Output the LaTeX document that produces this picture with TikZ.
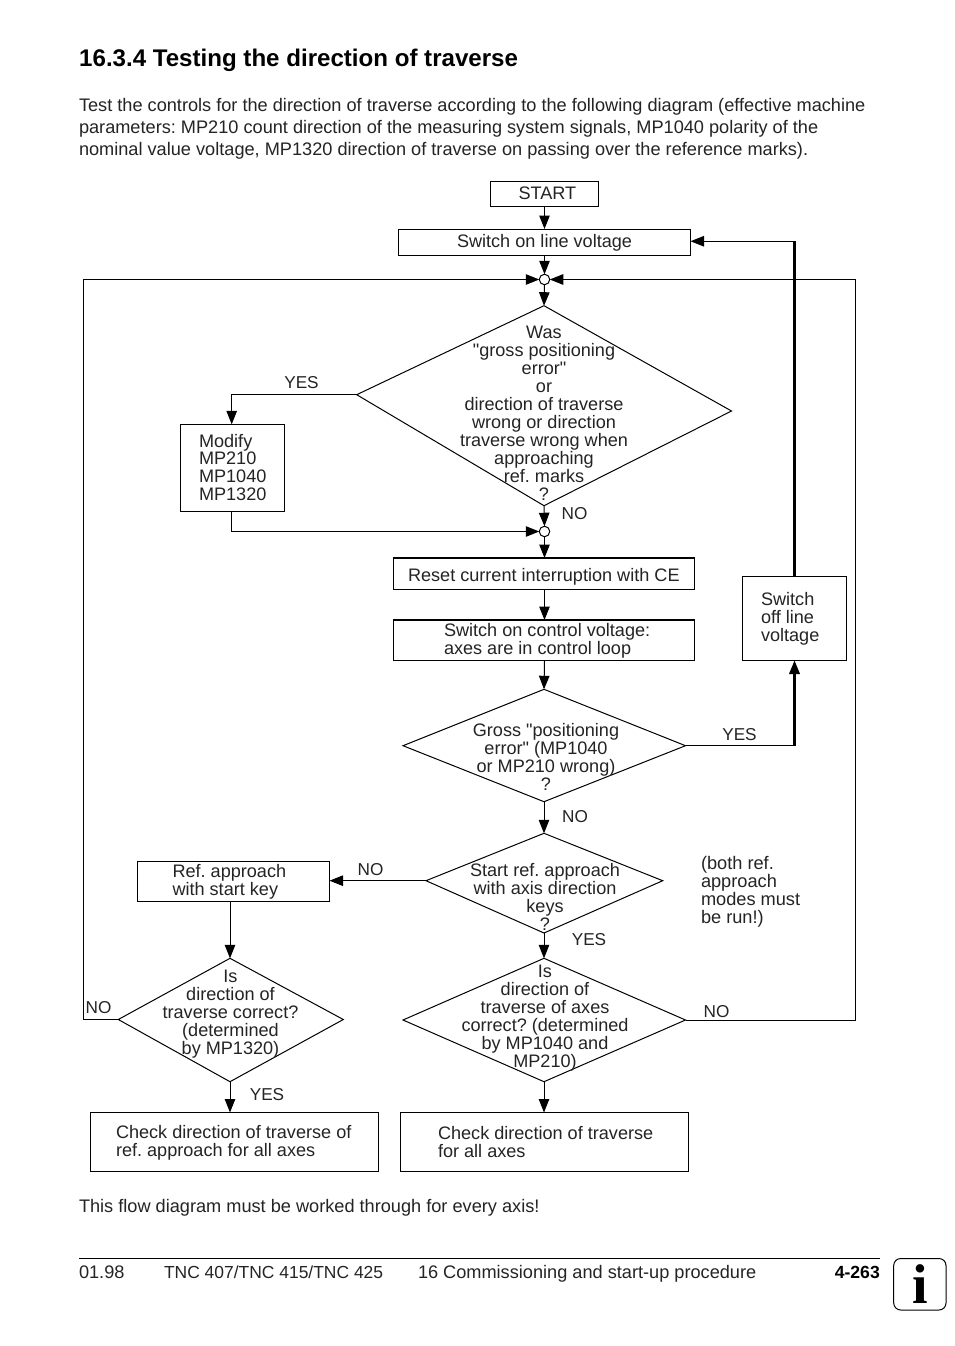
\documentclass[tikz,border=0pt]{standalone}
\usepackage{fontspec}
\setmainfont{Liberation Sans}[Ligatures=TeXOff]
\newfontfamily\iconfont{Liberation Serif}
\usetikzlibrary{arrows.meta,calc}
\definecolor{ink}{gray}{0.14}
% box: {name}{x0}{y0}{x1}{y1}{text left edge}{text centre y}{text}
\newcommand{\rectnode}[8]{%
  \pgfmathsetmacro{\rw}{#4-#2}\pgfmathsetmacro{\rh}{#5-#3}%
  \node[boxnode,anchor=north west,minimum width=\rw pt,minimum height=\rh pt] (#1) at (#2,#3) {};
  \node[boxtext] (#1text) at (#6,#7) {#8};}
\tikzset{
  body/.style={font=\fontsize{18.1}{18}\selectfont\frenchspacing,text=ink,inner sep=0pt,outer sep=0pt},
  boxnode/.style={draw=black,line width=1pt,inner sep=0pt,outer sep=0pt},
  boxtext/.style={body,anchor=west,align=left},
  dtext/.style={body,align=center},
  lab/.style={body,font=\fontsize{17.2}{18}\selectfont},
  para/.style={body,anchor=base west,font=\fontsize{18.17}{18}\selectfont\frenchspacing},
  diamondline/.style={draw=black,line width=1pt,line join=miter},
  tip/.style={-{Triangle[length=13.5pt,width=10.5pt]}},
  link/.style={draw=black,line width=1pt,tip},
  heavy/.style={draw=black,line width=2.1pt},
  joint/.style={circle,draw=black,fill=white,line width=1pt,minimum size=10.5pt,inner sep=0pt,outer sep=0pt},
}
\begin{document}
\begin{tikzpicture}[x=1pt,y=-1pt]
\useasboundingbox (0,0) rectangle (954,1346);
\fill[white] (0,0) rectangle (954,1346);

\node[anchor=base west,inner sep=0pt,font=\fontsize{24.1}{26}\selectfont\bfseries,text=black] (title) at (79,66.5) {16.3.4 Testing the direction of traverse};
\node[para] (p1) at (79,111) {Test the controls for the direction of traverse according to the following diagram (effective machine};
\node[para] (p2) at (79,133) {parameters: MP210 count direction of the measuring system signals, MP1040 polarity of the};
\node[para] (p3) at (79,155) {nominal value voltage, MP1320 direction of traverse on passing over the reference marks).};

\rectnode{start}{490.5}{181.5}{598.5}{206.5}{518.5}{193.7}{START}
\rectnode{line}{398.5}{229}{690.5}{255.5}{457}{242.5}{Switch on line voltage}
\rectnode{modify}{180.7}{424.3}{284.7}{511.7}{199}{467.3}{Modify\\[-0.35pt]MP210\\[-0.35pt]MP1040\\[-0.35pt]MP1320}
\rectnode{reset}{393.5}{558}{694.5}{589.5}{408}{576.5}{Reset current interruption with CE}
\rectnode{control}{393.5}{620}{694.5}{660.5}{444}{640.5}{Switch on control voltage:\\axes are in control loop}
\rectnode{off}{742.7}{576.7}{846.3}{660.5}{761}{618.5}{Switch\\off line\\voltage}
\rectnode{ref}{137.5}{861.5}{329.5}{901.5}{172.5}{881.5}{Ref. approach\\with start key}
\rectnode{checkl}{90.7}{1112.5}{378.5}{1171.5}{116}{1142.5}{Check direction of traverse of\\ref. approach for all axes}
\rectnode{checkr}{400.7}{1112.5}{688.5}{1171.5}{438}{1142.5}{Check direction of traverse\\for all axes}
\draw[draw=black,line width=1.8pt] (reset.south west) -- (reset.north west) -- (reset.north east);
\draw[draw=black,line width=1.8pt] (control.south west) -- (control.north west) -- (control.north east);

\coordinate (d1t) at (544,305.7); \coordinate (d1r) at (731.5,411); \coordinate (d1b) at (544,505.7); \coordinate (d1l) at (356.7,394.7);
\coordinate (d2t) at (544,689.3); \coordinate (d2r) at (685.5,745.7); \coordinate (d2b) at (544,801.7); \coordinate (d2l) at (403,745.7);
\coordinate (d3t) at (544,833.3); \coordinate (d3r) at (662.7,880.7); \coordinate (d3b) at (544,933); \coordinate (d3l) at (426,880.7);
\coordinate (d4t) at (544,958.3); \coordinate (d4r) at (685.5,1020); \coordinate (d4b) at (544,1081.7); \coordinate (d4l) at (403,1020);
\coordinate (d5t) at (230,958.3); \coordinate (d5r) at (343.3,1019.5); \coordinate (d5b) at (230,1081.7); \coordinate (d5l) at (118.3,1019.5);
\foreach \d in {d1,d2,d3,d4,d5}
  \draw[diamondline] (\d t) -- (\d r) -- (\d b) -- (\d l) -- cycle;

\node[dtext] (t1) at (544,413) {Was\\"gross positioning\\error"\\or\\direction of traverse\\wrong or direction\\traverse wrong when\\approaching\\ref. marks\\?};
\node[dtext] (t2) at (546,756.5) {Gross "positioning\\error" (MP1040\\or MP210 wrong)\\?};
\node[dtext] (t3) at (545,896.5) {Start ref. approach\\with axis direction\\keys\\?};
\node[dtext] (t4) at (545,1018.5) {Is\\direction of\\traverse of axes\\correct? (determined\\by MP1040 and\\MP210)};
\node[dtext] (t5) at (230.5,1014) {Is\\direction of\\traverse correct?\\(determined\\by MP1320)};

\node[joint] (j1) at (544.5,279.5) {};
\node[joint] (j2) at (544.5,531.5) {};

\draw[link] (start.south -| j1) -- (line.north -| j1);
\draw[link] (line.south -| j1) -- (j1.north);
\draw[link] (j1.south) -- (d1t);
\draw[link] (d1b) -- (j2.north);
\draw[link] (j2.south) -- (reset.north -| j2);
\draw[link] (reset.south -| j2) -- (control.north -| j2);
\draw[link] (control.south -| j2) -- (d2t);
\draw[link] (d2b) -- (d3t);
\draw[link] (d3b) -- (d4t);
\draw[link] (d4b) -- (checkr.north -| d4b);
\coordinate (modin) at ($(modify.north)+(-1,0)$);
\coordinate (modout) at ($(modify.south)+(-1,0)$);
\draw[link] (d1l) -| (modin);
\draw[link] (modout) |- (j2.west);
\draw[link] (d3l) -- (d3l -| ref.east);
\draw[link] (d5t |- ref.south) -- (d5t);
\draw[link] (d5b) -- (checkl.north -| d5b);
\coordinate (leftx) at (83.5,1019.5);
\draw[link] (d5l) -- (leftx) |- (j1.west);
\coordinate (rightx) at (855.5,1020);
\draw[link] (d4r) -- (rightx) |- (j1.east);
\draw[draw=black,line width=1.3pt] (d2r) -- (d2r -| off.south);
\draw[heavy,tip] (d2r -| off.south) -- (off.south);
\coordinate (upper) at ($(off.north |- line.east)+(0,-1)$);
\draw[heavy] (off.north) -- (upper);
\draw[link] (upper) -- (upper -| line.east);

\node[lab] (yes1) at (301.5,382.5) {YES};
\node[lab] (no1) at (574.5,513.5) {NO};
\node[lab] (yes2) at (739.5,734.5) {YES};
\node[lab] (no2) at (575,816.5) {NO};
\node[lab] (no3) at (370.5,869.5) {NO};
\node[lab] (yes3) at (589,939.5) {YES};
\node[lab] (no4) at (98.5,1007.5) {NO};
\node[lab] (no5) at (716.5,1011.5) {NO};
\node[lab] (yes4) at (267,1094.5) {YES};

\node[body,anchor=north west,align=left,font=\fontsize{18.2}{18}\selectfont\frenchspacing] (note) at (701,856.5) {(both ref.\\approach\\modes must\\be run!)};

\node[para] (flow) at (79,1212) {This flow diagram must be worked through for every axis!};

\coordinate (rulel) at (79,1258.7);
\coordinate (ruler) at (880,1258.7);
\draw[draw=black,line width=1pt] (rulel) -- (ruler);
\node[para] (f1) at (79,1278) {01.98};
\node[para,font=\fontsize{17.45}{18}\selectfont] (f2) at (164,1278) {TNC 407/TNC 415/TNC 425};
\node[para] (f3) at (418,1278) {16\hspace{5pt}Commissioning and start-up procedure};
\node[anchor=base east,inner sep=0pt,font=\fontsize{17.6}{18}\selectfont\bfseries,text=black] (f4) at (880,1278) {4-263};

\draw[draw=black,line width=1pt,rounded corners=7pt] (893.7,1258.5) rectangle (946,1310);
\node[inner sep=0pt,anchor=base,font=\fontsize{56}{56}\iconfont\bfseries,text=black] (icon) at (920,1303) {i};
\end{tikzpicture}
\end{document}
